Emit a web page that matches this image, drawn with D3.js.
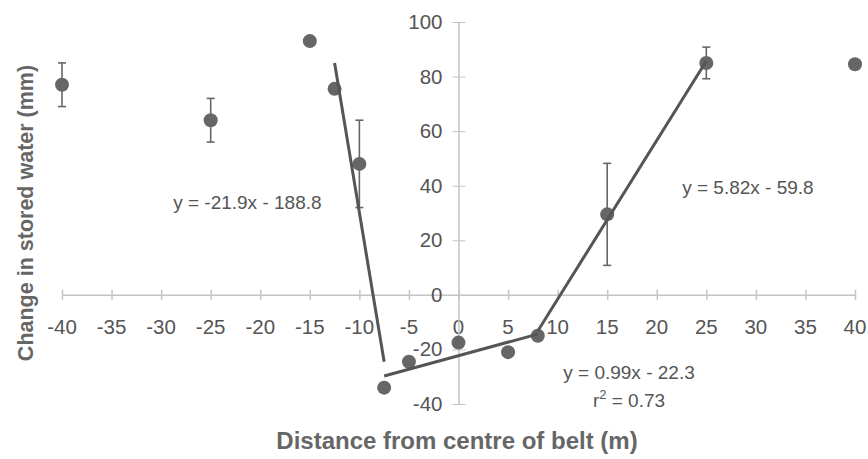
<!DOCTYPE html>
<html>
<head>
<meta charset="utf-8">
<script src="https://cdn.jsdelivr.net/npm/d3@7"></script>
<style>
  body { margin: 0; background: #fff; }
  text { font-family: "Liberation Sans", Arial, sans-serif; fill: #555; }
</style>
</head>
<body>
<div id="chart"></div>
<script>
var width = 868, height = 459;

// measured points: distance (m), change in stored water (mm), error (+/-)
var distance = [-40, -25, -15, -12.5, -10, -7.5, -5, 0, 5, 8, 15, 25, 40];
var water    = [77, 64, 93, 75.5, 48, -34, -24.5, -17.5, -21, -15, 29.5, 85, 84.5];
var errBar   = [8, 8, 0, 0, 16, 0, 0, 0, 0, 0, 18.7, 5.8, 0];

// fitted trend segments: slope, intercept, x range
var fits = [
    { m: -21.9, b: -188.8, x0: -12.5, x1: -7.5 },
    { m: 0.99,  b: -22.3,  x0: -7.5,  x1: 8 },
    { m: 5.82,  b: -59.8,  x0: 8,     x1: 25 }
];

var xTicks = [-40, -35, -30, -25, -20, -15, -10, -5, 0, 5, 10, 15, 20, 25, 30, 35, 40];
var yTicks = [-40, -20, 0, 20, 40, 60, 80, 100];

var labels = [
    { x: -21.3, y: 34, t: "y = -21.9x - 188.8" },
    { x: 29.2, y: 39.5, t: "y = 5.82x - 59.8" },
    { x: 17.2, y: -28.3, t: "y = 0.99x - 22.3" }
];

var x = d3.scaleLinear().domain([-40, 40]).range([62, 855]);
var y = d3.scaleLinear().domain([-40, 100]).range([404, 22]);

var svg = d3.select("#chart").append("svg")
    .attr("width", width)
    .attr("height", height);

var axisColor = "#c4c4c4";

// x axis along y = 0
var xAxis = svg.append("g")
    .attr("transform", "translate(0," + y(0) + ")")
    .call(d3.axisBottom(x).tickValues(xTicks).tickSize(0).tickFormat(""));
xAxis.select(".domain").attr("stroke", axisColor).attr("stroke-width", 1.5);
xAxis.selectAll(".tick line").remove();
xAxis.selectAll(".tick").append("line")
    .attr("y1", -5).attr("y2", 5)
    .attr("stroke", axisColor).attr("stroke-width", 1.5);

svg.append("g").selectAll("text")
    .data(xTicks).enter().append("text")
    .attr("x", function (d) { return x(d); })
    .attr("y", y(0) + 39)
    .attr("text-anchor", "middle")
    .style("font-size", "20.5px")
    .text(function (d) { return d; });

// y axis along x = 0
var yAxis = svg.append("g")
    .attr("transform", "translate(" + x(0) + ",0)")
    .call(d3.axisLeft(y).tickValues(yTicks).tickSize(0).tickFormat(""));
yAxis.select(".domain").attr("stroke", axisColor).attr("stroke-width", 1.5);
yAxis.selectAll(".tick line").remove();
yAxis.selectAll(".tick").append("line")
    .attr("x1", -6).attr("x2", 7)
    .attr("stroke", axisColor).attr("stroke-width", 1);

svg.append("g").selectAll("text")
    .data(yTicks).enter().append("text")
    .attr("x", x(0) - 16)
    .attr("y", function (d) { return y(d) + 7; })
    .attr("text-anchor", "end")
    .style("font-size", "20.5px")
    .text(function (d) { return d; });

var pts = distance.map(function (d, i) {
    return { x: d, y: water[i], e: errBar[i] };
});

// error bars
var eb = svg.append("g").selectAll("g")
    .data(pts.filter(function (d) { return d.e > 0; }))
    .enter().append("g")
    .attr("stroke", "#666").attr("stroke-width", 1.6);
eb.append("line")
    .attr("x1", function (d) { return x(d.x); })
    .attr("x2", function (d) { return x(d.x); })
    .attr("y1", function (d) { return y(d.y + d.e); })
    .attr("y2", function (d) { return y(d.y - d.e); });
eb.append("line")
    .attr("x1", function (d) { return x(d.x) - 4; })
    .attr("x2", function (d) { return x(d.x) + 4; })
    .attr("y1", function (d) { return y(d.y + d.e); })
    .attr("y2", function (d) { return y(d.y + d.e); });
eb.append("line")
    .attr("x1", function (d) { return x(d.x) - 4; })
    .attr("x2", function (d) { return x(d.x) + 4; })
    .attr("y1", function (d) { return y(d.y - d.e); })
    .attr("y2", function (d) { return y(d.y - d.e); });

// points
svg.append("g").selectAll("circle")
    .data(pts).enter().append("circle")
    .attr("cx", function (d) { return x(d.x); })
    .attr("cy", function (d) { return y(d.y); })
    .attr("r", 7)
    .attr("fill", "#666");

// trend lines
var lineFunction = d3.line()
    .x(function (d) { return x(d[0]); })
    .y(function (d) { return y(d[1]); });

svg.append("g").selectAll("path")
    .data(fits).enter().append("path")
    .attr("d", function (f) {
        return lineFunction([[f.x0, f.m * f.x0 + f.b], [f.x1, f.m * f.x1 + f.b]]);
    })
    .attr("fill", "none")
    .attr("stroke", "#555")
    .attr("stroke-width", 3);

// equations
svg.append("g").selectAll("text")
    .data(labels).enter().append("text")
    .attr("x", function (d) { return x(d.x); })
    .attr("y", function (d) { return y(d.y) + 7; })
    .attr("text-anchor", "middle")
    .style("font-size", "19px")
    .text(function (d) { return d.t; });

var r2 = svg.append("text")
    .attr("x", x(17.2))
    .attr("y", y(-38.5) + 7)
    .attr("text-anchor", "middle")
    .style("font-size", "19px");
r2.append("tspan").text("r");
r2.append("tspan").attr("dy", -8).style("font-size", "13px").text("2");
r2.append("tspan").attr("dy", 8).text(" = 0.73");

// axis titles
svg.append("text")
    .attr("x", 457)
    .attr("y", 449)
    .attr("text-anchor", "middle")
    .style("font-size", "24px")
    .style("font-weight", "bold")
    .style("fill", "#666")
    .text("Distance from centre of belt (m)");

svg.append("text")
    .attr("transform", "translate(33,213) rotate(-90)")
    .attr("text-anchor", "middle")
    .style("font-size", "21.5px")
    .style("font-weight", "bold")
    .style("fill", "#666")
    .text("Change in stored water (mm)");
</script>
</body>
</html>
